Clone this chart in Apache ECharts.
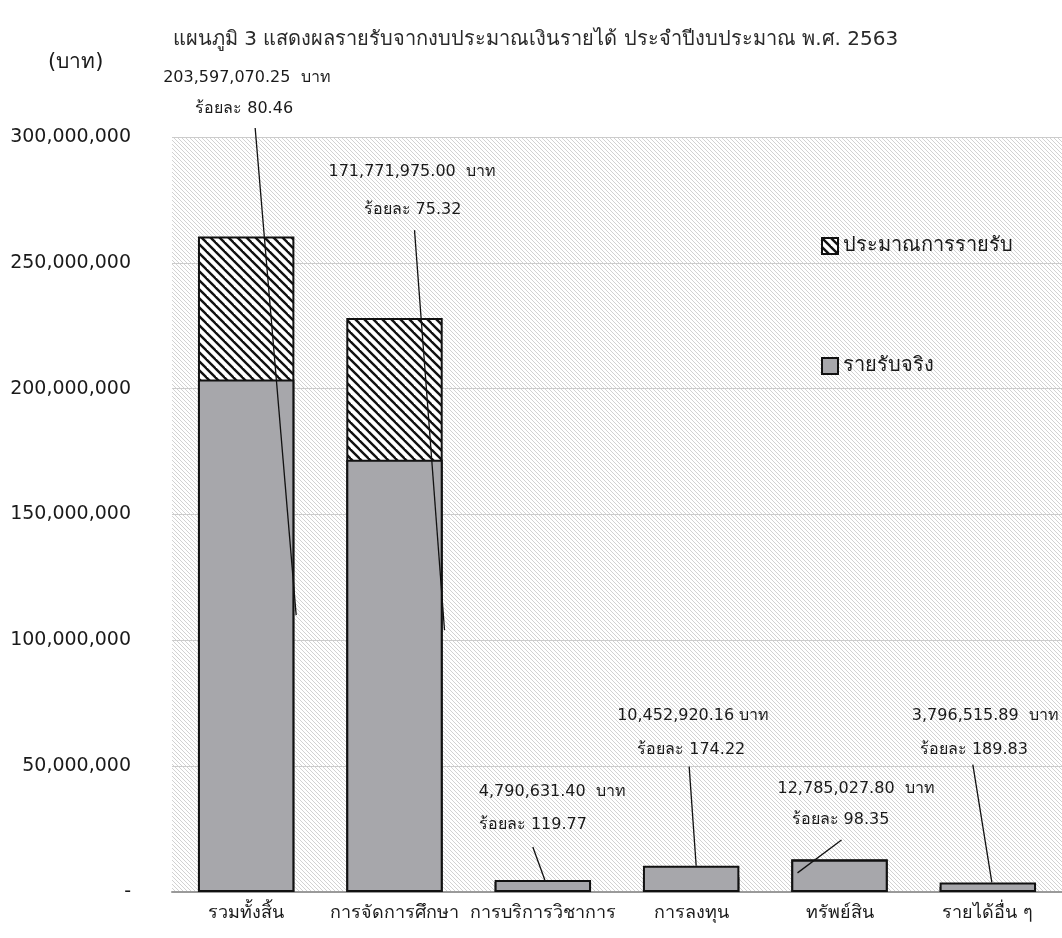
<!DOCTYPE html>
<html>
<head>
<meta charset="utf-8">
<script src="https://cdn.jsdelivr.net/npm/echarts@6/dist/echarts.min.js"></script>
<style>
  html, body { margin: 0; padding: 0; background: #fff; }
  #chart { width: 1062px; height: 938px; }
</style>
</head>
<body>
<div id="chart"></div>
<script>
// ---------------- data ----------------
const categories = ['รวมทั้งสิ้น', 'การจัดการศึกษา', 'การบริการวิชาการ', 'การลงทุน', 'ทรัพย์สิน', 'รายได้อื่น ๆ'];
const actualIncome = [203597070.25, 171771975.00, 4790631.40, 10452920.16, 12785027.80, 3796515.89];
const budgetIncome = [260500000, 228050000, 4000000, 6000000, 13000000, 2000000];
const percentOfBudget = [80.46, 75.32, 119.77, 174.22, 98.35, 189.83];
const valueSep = ['  ', '  ', '  ', ' ', '  ', '  '];
const yTicks = [0, 50000000, 100000000, 150000000, 200000000, 250000000, 300000000];
const seriesNames = ['ประมาณการรายรับ', 'รายรับจริง'];
const titleText = 'แผนภูมิ 3 แสดงผลรายรับจากงบประมาณเงินรายได้ ประจำปีงบประมาณ พ.ศ. 2563';
const unitText = '(บาท)';

// ------------- annotation layout (offsets from category centre, y in data units) -------------
const annotLayout = [
  { dx1: -83, v1: 323.5e6, dx2: -51, v2: 311.0e6, s: [9, 303.6e6], e: [50, 110e6] },
  { dx1: -66, v1: 286.3e6, dx2: -31, v2: 270.9e6, s: [20, 263e6], e: [50, 104e6] },
  { dx1: -64, v1: 39.8e6, dx2: -64, v2: 26.7e6, s: [-10, 17.9e6], e: [2, null] },
  { dx1: -74, v1: 70.1e6, dx2: -54, v2: 56.6e6, s: [-2, 49.8e6], e: [5, null] },
  { dx1: -62, v1: 41.0e6, dx2: -48, v2: 28.7e6, s: [2, 20.7e6], e: [-42, 7.6e6] },
  { dx1: -76, v1: 70.1e6, dx2: -68, v2: 56.6e6, s: [-15, 50.6e6], e: [4, null] }
];

const FONT = "'DejaVu Sans', 'Noto Sans', sans-serif";

// ------------- patterns -------------
function makeBgPattern() {
  const c = document.createElement('canvas');
  c.width = 4; c.height = 4;
  const g = c.getContext('2d');
  g.fillStyle = '#ffffff';
  g.fillRect(0, 0, 4, 4);
  g.fillStyle = '#d2d2d2';
  for (let i = 0; i < 4; i++) g.fillRect(i, i, 1, 1);
  return c;
}
function makeHatchPattern() {
  const p = 9;
  const c = document.createElement('canvas');
  c.width = p; c.height = p;
  const g = c.getContext('2d');
  g.fillStyle = '#ffffff';
  g.fillRect(0, 0, p, p);
  g.strokeStyle = '#111111';
  g.lineWidth = 2.4;
  for (let k = -1; k <= 1; k++) {
    g.beginPath();
    g.moveTo(k * p - 2, -2);
    g.lineTo(k * p + p + 2, p + 2);
    g.stroke();
  }
  return c;
}

const chart = echarts.init(document.getElementById('chart'), null, { renderer: 'canvas' });

const fmtNum = v => v.toLocaleString('en-US', { minimumFractionDigits: 2, maximumFractionDigits: 2 });
const fmtAxis = v => (v === 0 ? '-' : v.toLocaleString('en-US'));

chart.setOption({
  animation: false,
  backgroundColor: '#ffffff',
  title: {
    text: titleText,
    left: 168,
    top: 25,
    textStyle: { fontFamily: FONT, fontSize: 20, fontWeight: 'normal', color: '#2a2a2a' }
  },
  legend: {
    data: seriesNames,
    orient: 'vertical',
    left: 816,
    top: 231,
    itemWidth: 16,
    itemHeight: 16,
    itemGap: 100,
    icon: 'rect',
    textStyle: { fontFamily: FONT, fontSize: 20, color: '#1a1a1a' }
  },
  grid: {
    left: 172, right: 0, top: 137, bottom: 46,
    show: true,
    borderWidth: 0,
    backgroundColor: { image: makeBgPattern(), repeat: 'repeat' }
  },
  xAxis: {
    type: 'category',
    data: categories,
    axisLine: { lineStyle: { color: '#9a9a9a', width: 2 } },
    axisTick: { show: false },
    axisLabel: { fontFamily: FONT, fontSize: 18, color: '#1a1a1a', margin: 12, interval: 0 }
  },
  yAxis: {
    type: 'value',
    min: yTicks[0],
    max: yTicks[yTicks.length - 1],
    interval: yTicks[1] - yTicks[0],
    axisLine: { show: false },
    axisTick: { show: false },
    splitLine: { lineStyle: { color: '#cccccc', width: 1 } },
    axisLabel: {
      fontFamily: FONT, fontSize: 19, color: '#1a1a1a', margin: 41,
      padding: [0, 0, 14, 0],
      formatter: fmtAxis
    }
  },
  series: [
    {
      name: seriesNames[0],
      type: 'bar',
      data: budgetIncome,
      barWidth: '65%',
      barGap: '-100%',
      itemStyle: { color: { image: makeHatchPattern(), repeat: 'repeat' }, borderColor: '#111', borderWidth: 2 },
      z: 2
    },
    {
      name: seriesNames[1],
      type: 'bar',
      data: actualIncome,
      barWidth: '65%',
      itemStyle: { color: '#a7a7ab', borderColor: '#111', borderWidth: 2 },
      z: 3
    }
  ]
});

// ------------- annotations -------------
const graphics = [];
const toPx = (i, v) => chart.convertToPixel({ gridIndex: 0 }, [i, v]);
categories.forEach((cat, i) => {
  const L = annotLayout[i];
  const c = toPx(i, 0)[0];
  const y1 = toPx(i, L.v1)[1];
  const y2 = toPx(i, L.v2)[1];
  graphics.push({
    type: 'text', z: 100,
    x: c + L.dx1, y: y1,
    style: { text: fmtNum(actualIncome[i]) + valueSep[i] + 'บาท', font: '16px ' + FONT, fill: '#1a1a1a', verticalAlign: 'middle', align: 'left' }
  });
  graphics.push({
    type: 'text', z: 100,
    x: c + L.dx2, y: y2,
    style: { text: 'ร้อยละ ' + percentOfBudget[i].toFixed(2), font: '16px ' + FONT, fill: '#1a1a1a', verticalAlign: 'middle', align: 'left' }
  });
  const sy = toPx(i, L.s[1])[1];
  const ey = toPx(i, L.e[1] === null ? actualIncome[i] : L.e[1])[1];
  graphics.push({
    type: 'line', z: 100,
    shape: { x1: c + L.s[0], y1: sy, x2: c + L.e[0], y2: ey },
    style: { stroke: '#111', lineWidth: 1.3 }
  });
});
graphics.push({
  type: 'text', z: 100, x: 48, y: 63,
  style: { text: unitText, font: '21px ' + FONT, fill: '#1a1a1a', verticalAlign: 'middle', align: 'left' }
});
chart.setOption({ graphic: graphics });
</script>
</body>
</html>
